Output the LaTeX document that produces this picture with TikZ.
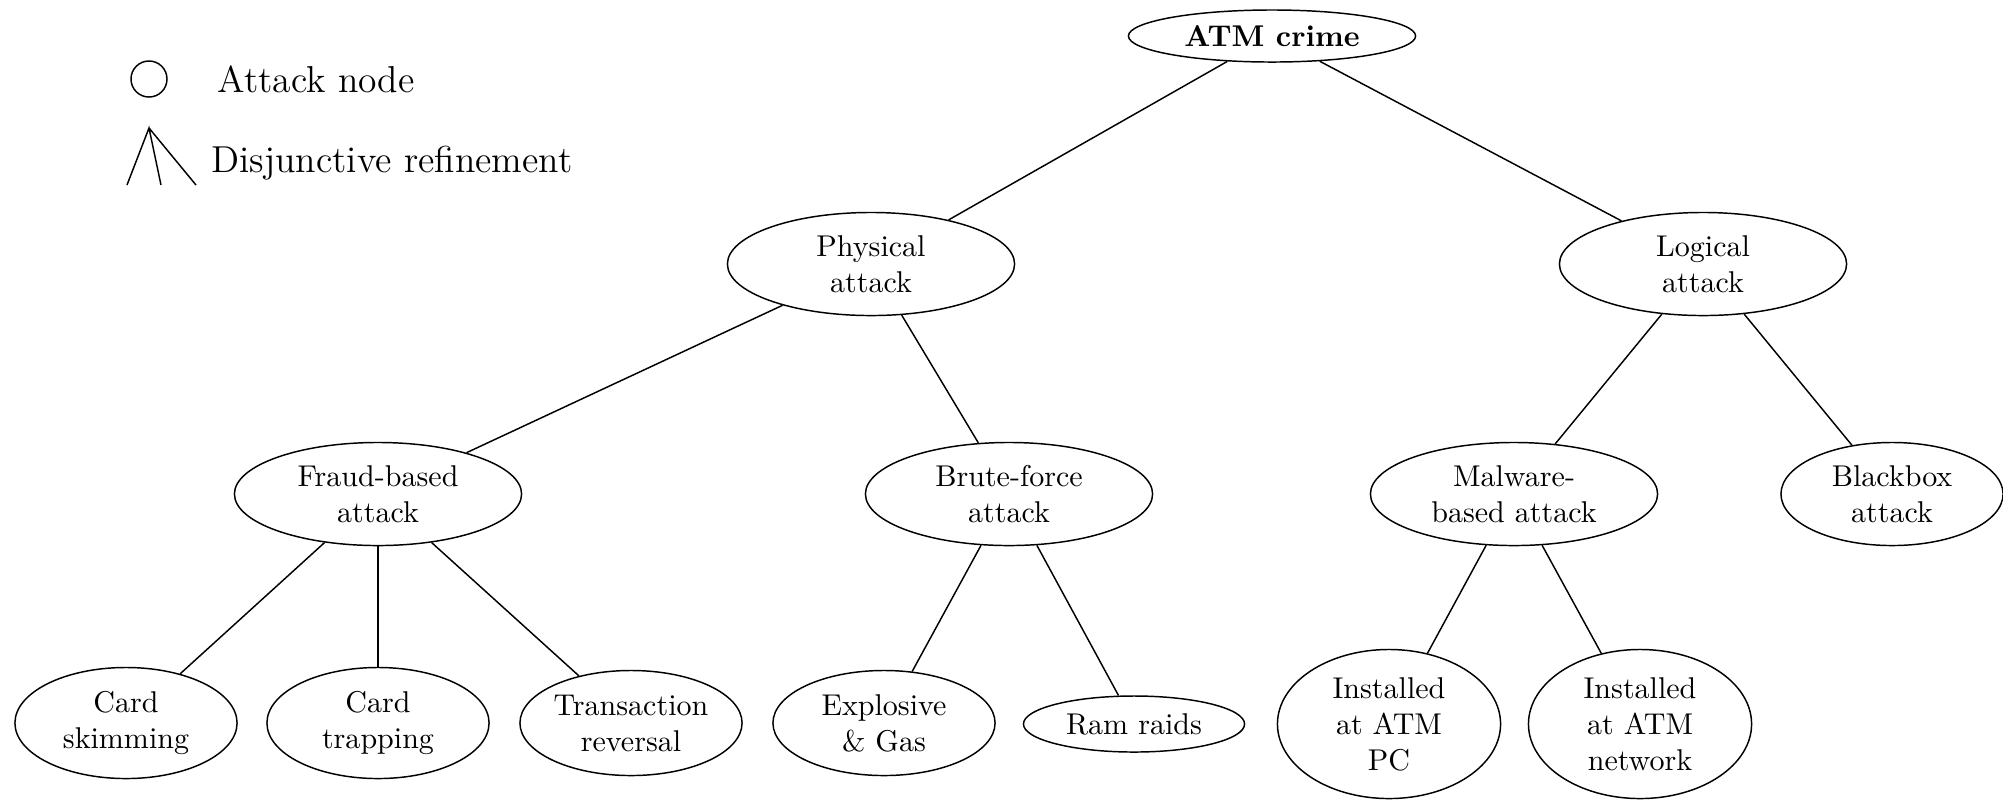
\documentclass[tikz,border=0pt]{standalone}
\usetikzlibrary{shapes.geometric}

\begin{document}
\begin{tikzpicture}[
    x=0.012cm, y=-0.012cm,
    attack/.style={ellipse, draw, inner sep=0pt, align=center, line width=0.5pt,
                   font=\fontsize{10.25}{12.3}\selectfont},
    big/.style={attack, minimum width=3.444cm, minimum height=1.236cm},
    leaf/.style={attack, minimum width=2.664cm, minimum height=1.332cm},
    edge/.style={line width=0.5pt},
    legend/.style={font=\fontsize{12.8}{15}\selectfont, anchor=base west, inner sep=0pt}
]
\useasboundingbox (0,0) rectangle (2003,800);

% Legend
\node[circle, draw, line width=0.5pt, minimum size=0.432cm, inner sep=0pt] (legcircle) at (149,79) {};
\node[legend] (legattack) at (217,92) {Attack node};
\coordinate (apex) at (149,128);
\coordinate (footl) at (127,185);
\coordinate (footm) at (161,185);
\coordinate (footr) at (196,185);
\draw[edge] (footl) -- (apex) -- (footm) (apex) -- (footr);
\node[legend] (legdisj) at (211,172) {Disjunctive refinement};

% Nodes
\node[big, minimum height=0.624cm] (atm) at (1272,36) {\textbf{ATM crime}};

\node[big] (phys) at (871,264) {Physical\\attack};
\node[big] (logic) at (1703,264) {Logical\\attack};

\node[big] (fraud) at (378,494) {Fraud-based\\attack};
\node[big] (brute) at (1009,494) {Brute-force\\attack};
\node[big] (malware) at (1514,494) {Malware-\\based attack};
\node[leaf, minimum height=1.236cm] (blackbox) at (1892,494) {Blackbox\\attack};

\node[leaf] (skim) at (126,723) {Card\\skimming};
\node[leaf] (trap) at (378,723) {Card\\trapping};
\node[leaf, minimum height=1.26cm] (reversal) at (631,723) {Transaction\\reversal};
\node[leaf, minimum height=1.26cm] (explosive) at (884,723) {Explosive\\\& Gas};
\node[leaf, minimum width=2.652cm, minimum height=0.672cm] (ram) at (1134,724) {Ram raids};
\node[leaf, minimum width=2.676cm, minimum height=1.788cm] (atmpc) at (1389,724) {Installed\\at ATM\\PC};
\node[leaf, minimum width=2.676cm, minimum height=1.788cm] (atmnet) at (1640,724) {Installed\\at ATM\\network};

% Edges
\draw[edge] (atm) -- (phys);
\draw[edge] (atm) -- (logic);
\draw[edge] (phys) -- (fraud);
\draw[edge] (phys) -- (brute);
\draw[edge] (logic) -- (malware);
\draw[edge] (logic) -- (blackbox);
\draw[edge] (fraud) -- (skim);
\draw[edge] (fraud) -- (trap);
\draw[edge] (fraud) -- (reversal);
\draw[edge] (brute) -- (explosive);
\draw[edge] (brute) -- (ram);
\draw[edge] (malware) -- (atmpc);
\draw[edge] (malware) -- (atmnet);

\end{tikzpicture}
\end{document}
